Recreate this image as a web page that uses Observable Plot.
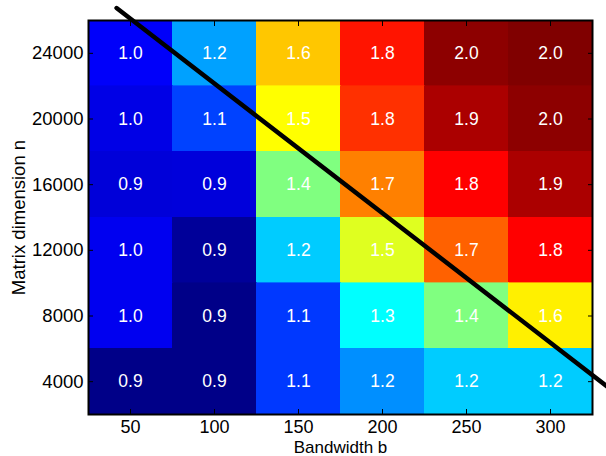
<!DOCTYPE html>
<html><head><meta charset="utf-8">
<script src="https://cdn.jsdelivr.net/npm/d3@7"></script>
<script src="https://cdn.jsdelivr.net/npm/@observablehq/plot@0.6"></script>
<style>body{margin:0;background:#fff} svg{display:block}</style>
</head><body><div id="chart"></div>
<script>
// Bandwidth b (columns) and matrix dimension n (rows, top to bottom)
const bandwidths = [50, 100, 150, 200, 250, 300];
const dimensions = [24000, 20000, 16000, 12000, 8000, 4000];

// Printed speedup values, one row per dimension (top to bottom)
const speedups = [
  [1.0, 1.2, 1.6, 1.8, 2.0, 2.0],
  [1.0, 1.1, 1.5, 1.8, 1.9, 2.0],
  [0.9, 0.9, 1.4, 1.7, 1.8, 1.9],
  [1.0, 0.9, 1.2, 1.5, 1.7, 1.8],
  [1.0, 0.9, 1.1, 1.3, 1.4, 1.6],
  [0.9, 0.9, 1.1, 1.2, 1.2, 1.2]
];

// Position of each cell's colour in the jet colormap (0 = dark blue, 1 = dark red)
const colorLevels = [
  [0.12, 0.283, 0.68, 0.855, 0.9875, 1.0],
  [0.10, 0.19, 0.625, 0.828, 0.958, 0.9875],
  [0.088, 0.09, 0.5, 0.75, 0.875, 0.958],
  [0.11, 0.025, 0.325, 0.594, 0.78, 0.875],
  [0.11, 0.008, 0.18, 0.375, 0.5, 0.64],
  [0.008, 0.008, 0.18, 0.265, 0.325, 0.325]
];

// Diagonal separating line, endpoints in data units
const cutLineB = [41.7, 334.5];
const cutLineN = [26761, 3645];

// Axis titles
const xTitle = "Bandwidth b";
const yTitle = "Matrix dimension n";

// jet colormap stops
const jetStops = [0, 0.125, 0.375, 0.625, 0.875, 1];
const jetColors = ["#000080", "#0000ff", "#00ffff", "#ffff00", "#ff0000", "#800000"];

const cellWidth = 50, cellHeight = 4000;

const cells = dimensions.flatMap((n, i) => bandwidths.map((b, j) => ({
  b, n, s: speedups[i][j], level: colorLevels[i][j]
})));
const lineData = cutLineB.map((b, i) => ({b, n: cutLineN[i]}));

const fmt = d3.format("d");
const blank = () => "";

const chart = Plot.plot({
  width: 606,
  height: 456,
  marginLeft: 88,
  marginRight: 14,
  marginTop: 20,
  marginBottom: 42,
  style: {fontFamily: "'Liberation Sans', Arial, Helvetica, sans-serif", fontSize: "18px", color: "black", background: "white"},
  x: {domain: [bandwidths[0] - cellWidth / 2, bandwidths[bandwidths.length - 1] + cellWidth / 2]},
  y: {domain: [dimensions[dimensions.length - 1] - cellHeight / 2, dimensions[0] + cellHeight / 2]},
  color: {type: "linear", domain: jetStops, range: jetColors, interpolate: "rgb"},
  marks: [
    Plot.rect(cells, {
      x1: d => d.b - cellWidth / 2, x2: d => d.b + cellWidth / 2,
      y1: d => d.n - cellHeight / 2, y2: d => d.n + cellHeight / 2,
      fill: "level", stroke: "level", strokeWidth: 0.6, shapeRendering: "crispEdges"
    }),
    Plot.text(cells, {x: "b", y: "n", text: d => d.s.toFixed(1), fill: "white", fontSize: 17.5}),
    Plot.line(lineData, {x: "b", y: "n", stroke: "black", strokeWidth: 4.5}),
    Plot.frame({stroke: "black", strokeWidth: 2}),
    Plot.axisX(bandwidths, {anchor: "bottom", tickSize: 0, tickPadding: 6, tickFormat: fmt, fontSize: 18, label: null}),
    Plot.text([xTitle], {frameAnchor: "bottom", text: d => d, lineAnchor: "bottom", dy: 38, fontSize: 17, fill: "black"}),
    Plot.axisX(bandwidths, {anchor: "bottom", tickSize: -5, tickFormat: blank, label: null}),
    Plot.axisX(bandwidths, {anchor: "top", tickSize: -5, tickFormat: blank, label: null}),
    Plot.axisY(dimensions, {anchor: "left", tickSize: 0, tickPadding: 5, tickFormat: fmt, fontSize: 18.5,
      label: yTitle, labelAnchor: "center", labelArrow: "none", labelOffset: 77}),
    Plot.axisY(dimensions, {anchor: "left", tickSize: -5, tickFormat: blank, label: null}),
    Plot.axisY(dimensions, {anchor: "right", tickSize: -5, tickFormat: blank, label: null})
  ]
});
document.getElementById("chart").append(chart);
</script>
</body></html>
